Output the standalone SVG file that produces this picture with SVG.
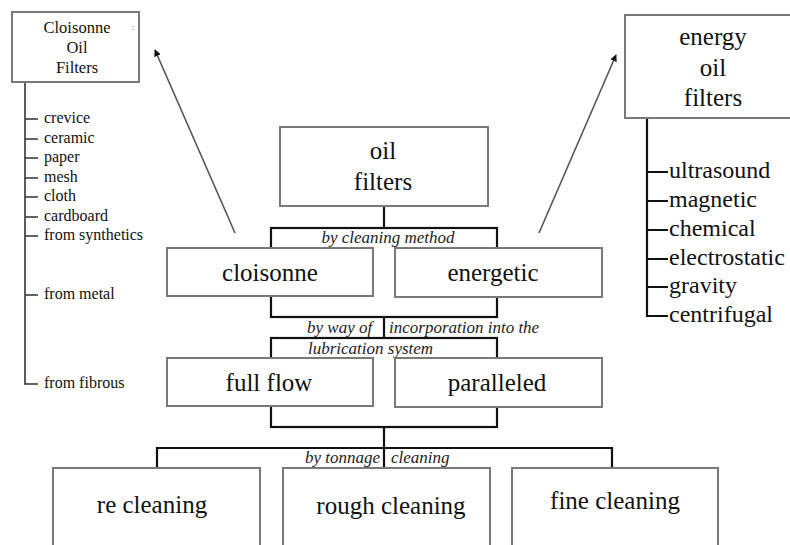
<svg xmlns="http://www.w3.org/2000/svg" width="790" height="545" viewBox="0 0 790 545">
<style>
.box{fill:#fff;stroke:#7a7a7a;stroke-width:2}
.br{fill:none;stroke:#111;stroke-width:2.2}
.ln{fill:none;stroke:#333;stroke-width:1.6}
.arr{fill:none;stroke:#555;stroke-width:1.6}
.t{font-family:"Liberation Serif","Times New Roman",serif;fill:#111}
.big{font-size:25px;text-anchor:middle}
.it{font-family:"Liberation Serif","Times New Roman",serif;font-style:italic;font-size:17px;fill:#222}
.sm{font-size:16px}
.md{font-size:24px}
</style>
<defs>
<marker id="ah" viewBox="0 0 10 10" refX="9" refY="5" markerWidth="7" markerHeight="7" orient="auto" markerUnits="userSpaceOnUse">
<path d="M0,0 L10,5 L0,10 z" fill="#111"/>
</marker>
</defs>
<rect width="790" height="545" fill="#fff"/>

<g id="connectors">
<line class="br" x1="384" y1="206" x2="384" y2="228"/>
<rect class="br" x="271" y="228" width="226" height="89"/>
<line class="br" x1="384" y1="317" x2="384" y2="338"/>
<rect class="br" x="271" y="338" width="226" height="89"/>
<line class="br" x1="384" y1="427" x2="384" y2="468"/>
<polyline class="br" points="157,468 157,448 612,448 612,468"/>
<line class="arr" x1="235" y1="233" x2="155" y2="50" marker-end="url(#ah)"/>
<line class="arr" x1="539" y1="233" x2="616" y2="55" marker-end="url(#ah)"/>
<path class="ln" d="M25,82 V384 H38 M25,119 H38 M25,139 H38 M25,158 H38 M25,178 H38 M25,197 H38 M25,217 H38 M25,236 H38 M25,295 H38"/>
<path class="br" d="M647,118 V316 H668 M647,172 H668 M647,201 H668 M647,230 H668 M647,259 H668 M647,287 H668" stroke-width="2"/>
</g>

<g id="labels">
<text class="it" x="388" y="243" text-anchor="middle">by cleaning method</text>
<text class="it" x="307" y="333">by way of</text>
<text class="it" x="389" y="333">incorporation into the</text>
<text class="it" x="308" y="354">lubrication system</text>
<text class="it" x="380" y="463" text-anchor="end">by tonnage</text>
<text class="it" x="391" y="463">cleaning</text>
</g>

<g id="cloisonne-oil-filters">
<rect class="box" x="12" y="12" width="127" height="70"/>
<text class="t" x="77" y="33" text-anchor="middle" font-size="16.5">Cloisonne</text>
<text class="t" x="77" y="53" text-anchor="middle" font-size="16.5">Oil</text>
<text class="t" x="77" y="73" text-anchor="middle" font-size="16.5">Filters</text>
<text class="t" x="133" y="30" text-anchor="middle" font-size="8" fill="#999">:</text>
</g>

<g id="cloisonne-list" class="t sm">
<text x="44" y="123">crevice</text>
<text x="44" y="143">ceramic</text>
<text x="44" y="162">paper</text>
<text x="44" y="182">mesh</text>
<text x="44" y="201">cloth</text>
<text x="44" y="221">cardboard</text>
<text x="44" y="240">from synthetics</text>
<text x="44" y="299">from metal</text>
<text x="44" y="388">from fibrous</text>
</g>

<g id="energy-oil-filters">
<rect class="box" x="625" y="15" width="180" height="103"/>
<text class="t" x="713" y="45" text-anchor="middle" font-size="25">energy</text>
<text class="t" x="713" y="76" text-anchor="middle" font-size="25">oil</text>
<text class="t" x="713" y="106" text-anchor="middle" font-size="25">filters</text>
</g>

<g id="energy-list" class="t md">
<text x="669" y="178">ultrasound</text>
<text x="669" y="207">magnetic</text>
<text x="669" y="236">chemical</text>
<text x="669" y="265">electrostatic</text>
<text x="669" y="293">gravity</text>
<text x="669" y="322">centrifugal</text>
</g>

<g id="oil-filters">
<rect class="box" x="280" y="127" width="208" height="79"/>
<text class="t big" x="383" y="159">oil</text>
<text class="t big" x="383" y="190">filters</text>
</g>

<g id="cloisonne">
<rect class="box" x="167" y="248" width="206" height="48"/>
<text class="t big" x="270" y="281">cloisonne</text>
</g>

<g id="energetic">
<rect class="box" x="395" y="248" width="207" height="49"/>
<text class="t big" x="493" y="281">energetic</text>
</g>

<g id="full-flow">
<rect class="box" x="167" y="358" width="206" height="48"/>
<text class="t big" x="269" y="391">full flow</text>
</g>

<g id="paralleled">
<rect class="box" x="395" y="358" width="207" height="49"/>
<text class="t big" x="497" y="391">paralleled</text>
</g>

<g id="re-cleaning">
<rect class="box" x="53" y="468" width="207" height="90"/>
<text class="t big" x="152" y="513" font-size="26">re cleaning</text>
</g>

<g id="rough-cleaning">
<rect class="box" x="283" y="468" width="207" height="90"/>
<text class="t big" x="391" y="514" font-size="26">rough cleaning</text>
</g>

<g id="fine-cleaning">
<rect class="box" x="512" y="468" width="206" height="90"/>
<text class="t big" x="615" y="509" font-size="26">fine cleaning</text>
</g>
</svg>
